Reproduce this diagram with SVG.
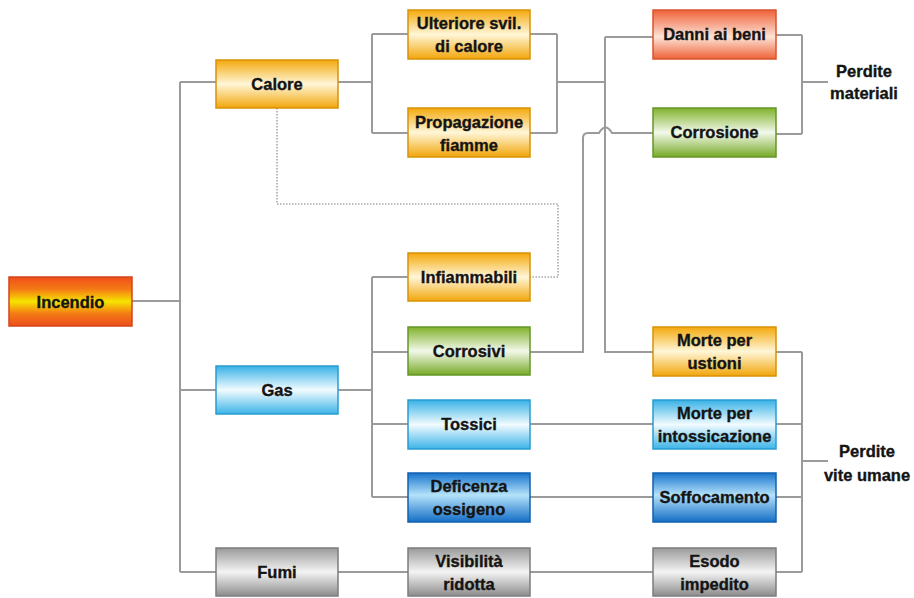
<svg xmlns="http://www.w3.org/2000/svg" width="914" height="598" viewBox="0 0 914 598">
<defs>
<linearGradient id="gRed" x1="0" y1="0" x2="0" y2="1">
<stop offset="0" stop-color="#ef4f1c"/><stop offset="0.25" stop-color="#f47a14"/><stop offset="0.5" stop-color="#f6e400"/><stop offset="0.75" stop-color="#f47a14"/><stop offset="1" stop-color="#ec4e1c"/>
</linearGradient>
<linearGradient id="gAmber" x1="0" y1="0" x2="0" y2="1">
<stop offset="0" stop-color="#f4a90c"/><stop offset="0.5" stop-color="#fff6d8"/><stop offset="1" stop-color="#f2a60a"/>
</linearGradient>
<linearGradient id="gCoral" x1="0" y1="0" x2="0" y2="1">
<stop offset="0" stop-color="#ef6238"/><stop offset="0.55" stop-color="#fde3d6"/><stop offset="1" stop-color="#ee6238"/>
</linearGradient>
<linearGradient id="gGreen" x1="0" y1="0" x2="0" y2="1">
<stop offset="0" stop-color="#80b22c"/><stop offset="0.5" stop-color="#f3f8ea"/><stop offset="1" stop-color="#76aa26"/>
</linearGradient>
<linearGradient id="gCyan" x1="0" y1="0" x2="0" y2="1">
<stop offset="0" stop-color="#38b2e6"/><stop offset="0.5" stop-color="#f2fbff"/><stop offset="1" stop-color="#3cb4e8"/>
</linearGradient>
<linearGradient id="gBlue" x1="0" y1="0" x2="0" y2="1">
<stop offset="0" stop-color="#1874cc"/><stop offset="0.45" stop-color="#b4e2fa"/><stop offset="1" stop-color="#146ec6"/>
</linearGradient>
<linearGradient id="gGrey" x1="0" y1="0" x2="0" y2="1">
<stop offset="0" stop-color="#9a9a9a"/><stop offset="0.5" stop-color="#f4f4f4"/><stop offset="1" stop-color="#8c8c8c"/>
</linearGradient>
</defs>
<style>
.ln{fill:none;stroke:#9b9b9b;stroke-width:2}
.dot{fill:none;stroke:#a8a8a8;stroke-width:1.6;stroke-dasharray:1.5 1.5}
.bx{stroke-width:1.5}
.red{fill:url(#gRed);stroke:#d2461a}
.amb{fill:url(#gAmber);stroke:#d89208}
.cor{fill:url(#gCoral);stroke:#d8542e}
.grn{fill:url(#gGreen);stroke:#64962a}
.cya{fill:url(#gCyan);stroke:#2a9cd0}
.blu{fill:url(#gBlue);stroke:#1260b0}
.gry{fill:url(#gGrey);stroke:#7c7c7c}
text{font-family:"Liberation Sans",Arial,sans-serif;font-weight:bold;font-size:16.5px;fill:#141414;stroke:#141414;stroke-width:0.35;text-anchor:middle}
</style>
<rect width="914" height="598" fill="#ffffff"/>
<g id="connectors">
<path class="ln" d="M132,301 H180 M180,82 V572 M180,82 H216 M180,390 H216 M180,572 H216"/>
<path class="ln" d="M338,82 H372 M372,34 V133 M372,34 H408 M372,133 H408"/>
<path class="ln" d="M530,34 H557 M530,133 H557 M557,34 V133 M557,82 H605"/>
<path class="ln" d="M605,37 V352 H653 M605,37 H653"/>
<path class="ln" d="M530,352 H583 V138 Q583,133 588,133 H599 Q605.5,122 612,133 H653"/>
<path class="ln" d="M776,35 H802 M776,134 H802 M802,35 V134 M802,82 H828"/>
<path class="ln" d="M338,390 H372 M372,277 V497 M372,277 H408 M372,352 H408 M372,424 H408 M372,497 H408"/>
<path class="ln" d="M530,424 H653 M530,497 H653 M530,572 H653 M338,572 H408"/>
<path class="ln" d="M776,352 H802 M776,424 H802 M776,497 H802 M776,572 H802 M802,352 V572 M802,461 H828"/>
<path class="dot" d="M277,108 V204 H558 V277 H530"/>
</g>
<g id="incendio"><rect class="bx red" x="9" y="277" width="123" height="49"/><text x="70.5" y="308">Incendio</text></g>
<g id="calore"><rect class="bx amb" x="216" y="60" width="122" height="48"/><text x="277" y="90">Calore</text></g>
<g id="gas"><rect class="bx cya" x="216" y="366" width="122" height="48"/><text x="277" y="396">Gas</text></g>
<g id="fumi"><rect class="bx gry" x="216" y="548" width="122" height="48"/><text x="277" y="578">Fumi</text></g>
<g id="ulteriore"><rect class="bx amb" x="408" y="10" width="122" height="49"/><text x="469" y="29">Ulteriore svil.</text><text x="469" y="52">di calore</text></g>
<g id="propagazione"><rect class="bx amb" x="408" y="108" width="122" height="49"/><text x="469" y="128">Propagazione</text><text x="469" y="151">fiamme</text></g>
<g id="infiammabili"><rect class="bx amb" x="408" y="253" width="122" height="48"/><text x="469" y="283">Infiammabili</text></g>
<g id="corrosivi"><rect class="bx grn" x="408" y="327" width="122" height="48"/><text x="469" y="357">Corrosivi</text></g>
<g id="tossici"><rect class="bx cya" x="408" y="400" width="122" height="49"/><text x="469" y="430">Tossici</text></g>
<g id="deficenza"><rect class="bx blu" x="408" y="473" width="122" height="49"/><text x="469" y="492">Deficenza</text><text x="469" y="515">ossigeno</text></g>
<g id="visibilita"><rect class="bx gry" x="408" y="548" width="122" height="48"/><text x="469" y="567">Visibilità</text><text x="469" y="590">ridotta</text></g>
<g id="danni"><rect class="bx cor" x="653" y="10" width="123" height="49"/><text x="714.5" y="40">Danni ai beni</text></g>
<g id="corrosione"><rect class="bx grn" x="653" y="108" width="123" height="49"/><text x="714.5" y="138">Corrosione</text></g>
<g id="ustioni"><rect class="bx amb" x="653" y="327" width="123" height="49"/><text x="714.5" y="346">Morte per</text><text x="714.5" y="369">ustioni</text></g>
<g id="intossicazione"><rect class="bx cya" x="653" y="400" width="123" height="49"/><text x="714.5" y="419">Morte per</text><text x="714.5" y="442">intossicazione</text></g>
<g id="soffocamento"><rect class="bx blu" x="653" y="473" width="123" height="49"/><text x="714.5" y="503">Soffocamento</text></g>
<g id="esodo"><rect class="bx gry" x="653" y="548" width="123" height="48"/><text x="714.5" y="567">Esodo</text><text x="714.5" y="590">impedito</text></g>
<g id="perdite-materiali"><text x="864" y="77">Perdite</text><text x="864" y="99">materiali</text></g>
<g id="perdite-vite"><text x="867" y="457">Perdite</text><text x="867" y="481">vite umane</text></g>
</svg>
